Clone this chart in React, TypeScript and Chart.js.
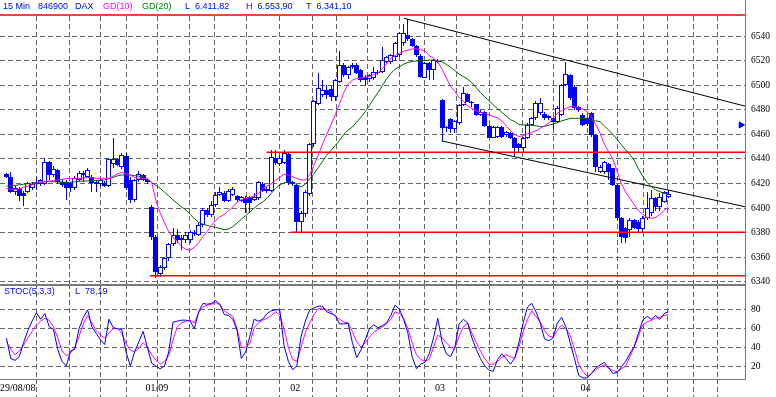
import React, { useEffect, useRef } from 'react';
import { Chart, registerables } from 'chart.js';

Chart.register(...registerables);

// ---------------- data (15 min candles, DAX, 29/08/08 - 04/09/08) ----------------
const opens = [
  6427.9, 6425, 6413.5, 6415.4, 6412.7, 6413.5, 6416.2, 6419.5, 6419.5, 6419.5, 6437.3, 6427, 6431, 6421.6, 6421.6, 6420.3, 6416.2, 6423, 6427, 6425.7, 6425.7, 6421.6, 6419.5, 6420.3, 6418.1, 6436, 6439.8, 6433.8, 6442.7, 6423, 6406.7, 6423, 6427, 6423,
  6401.3, 6376.9, 6346.1, 6351.2, 6359.3, 6370.7, 6378.3, 6375.6, 6374.2, 6374.2, 6379, 6378.3, 6386.4, 6398.6, 6394.5, 6402.7, 6410.8, 6412, 6406, 6411, 6410, 6406, 6408.6, 6409, 6407, 6408.6, 6420, 6414, 6414, 6441, 6436, 6437, 6443.8, 6421,
  6418.9, 6389, 6395, 6411.3, 6451.9, 6485, 6492, 6496, 6496.8, 6490.7, 6503, 6516.5, 6508, 6514.5, 6516.5, 6512.4, 6506.9, 6505, 6505.6, 6509.7, 6511, 6519, 6519, 6523.3, 6524.6, 6534, 6540.8, 6537.4, 6532, 6523.8, 6506, 6518, 6512.4, 6520,
  6488, 6466, 6472.6, 6464.4, 6469, 6484, 6492.6, 6486.7, 6484.5, 6475.8, 6478, 6467, 6457.4, 6458, 6466.3, 6459.6, 6461, 6456.8, 6452, 6448.6, 6457.4, 6467.7, 6473.1, 6477, 6476.4, 6475, 6473.1, 6470.4, 6476, 6500, 6508.3, 6498.9, 6482.6, 6475.8,
  6473.1, 6477.2, 6459.6, 6429.8, 6429.2, 6435.7, 6432.5, 6419, 6391.8, 6383.7, 6382.3, 6390.5, 6389, 6383.1, 6391.8, 6395.9, 6408.6, 6401.3, 6405.4, 6409.5,
];
const highs = [
  6428.4, 6429.8, 6418, 6417, 6414, 6421, 6421, 6425.7, 6424, 6440.6, 6438, 6434, 6432, 6424, 6423, 6421, 6426, 6430, 6430.5, 6432.5, 6427, 6423, 6424, 6422, 6441, 6457, 6441, 6444.8, 6444.5, 6425, 6424, 6430, 6428, 6424,
  6402.5, 6378, 6354, 6360, 6372, 6384, 6383, 6378, 6381, 6382, 6382, 6388, 6400, 6400, 6406, 6413, 6417, 6414, 6416, 6417, 6411, 6410, 6410, 6410, 6412, 6422, 6421, 6417, 6447, 6447, 6443, 6447, 6445, 6422,
  6420, 6398, 6415, 6453, 6488, 6509.7, 6504, 6500, 6499, 6505, 6527.8, 6518, 6516, 6518, 6518, 6513, 6508, 6509, 6515, 6512, 6531.4, 6524, 6525, 6535, 6543, 6549.8, 6553.9, 6538.5, 6533, 6525, 6519, 6519, 6521, 6521,
  6489, 6467, 6473, 6472, 6485, 6498.3, 6494, 6487, 6485, 6480, 6479, 6468, 6467, 6467, 6467, 6463, 6462, 6458, 6453, 6458, 6469, 6474.5, 6487, 6489.4, 6478, 6476, 6474, 6483, 6501, 6519.2, 6509, 6500, 6483, 6477,
  6474, 6478, 6460, 6435, 6438.5, 6437, 6433, 6420, 6393, 6385, 6392, 6391.5, 6390, 6394, 6413.5, 6414.8, 6409, 6412.2, 6414, 6415,
];
const lows = [
  6424.3, 6412, 6411, 6406, 6401.4, 6412, 6415, 6414.9, 6418, 6418.5, 6423, 6425, 6420, 6417, 6406.7, 6413, 6415, 6422, 6421, 6425, 6413.5, 6413.5, 6418, 6417, 6417.5, 6433, 6434, 6432, 6415, 6404, 6405, 6421, 6422, 6420,
  6374, 6343, 6344.4, 6350, 6357, 6369, 6372, 6366, 6372, 6372, 6377, 6377, 6385, 6393, 6393, 6401, 6410, 6405, 6405, 6410, 6405, 6405, 6395.8, 6396, 6406, 6407, 6413, 6412, 6413, 6435, 6434, 6436, 6419, 6418,
  6380.4, 6380.5, 6393, 6410, 6450, 6484, 6490, 6489, 6487, 6487, 6502, 6507, 6505, 6513, 6509, 6503, 6499.6, 6503, 6504, 6508, 6510, 6518, 6517, 6520, 6523, 6532, 6536, 6531, 6523, 6506, 6505.5, 6504, 6504, 6518,
  6454.7, 6462, 6461, 6461, 6468, 6483, 6486, 6482.6, 6475, 6475, 6466, 6457, 6457, 6457, 6457, 6458, 6456, 6442, 6446, 6446, 6456, 6467, 6472, 6476, 6472, 6472, 6464.4, 6469, 6475, 6499, 6488, 6480, 6478, 6467,
  6467, 6458, 6429.2, 6429, 6428, 6423, 6418, 6390, 6371.5, 6371.5, 6376.9, 6383, 6381, 6381, 6390, 6394, 6398, 6398, 6404, 6408,
];
const closes = [
  6425.2, 6413.5, 6416.2, 6410, 6410, 6420.3, 6419.5, 6421.6, 6423, 6437.3, 6427, 6432, 6421.6, 6418.9, 6416.2, 6416.2, 6424.3, 6429, 6429, 6431.1, 6420.3, 6419.5, 6423, 6418.1, 6440.1, 6440.1, 6435, 6443.3, 6416.4, 6406.7, 6423, 6427.6, 6423, 6421.6,
  6376.9, 6348.5, 6352.5, 6359.3, 6370.7, 6378.3, 6374.2, 6374.2, 6378.3, 6381, 6380, 6386.4, 6398.6, 6394.5, 6402.7, 6410.8, 6413.5, 6406, 6414, 6416, 6406.7, 6409, 6404, 6404, 6409, 6421, 6414, 6416, 6442, 6436.5, 6441, 6445, 6420.3, 6419.7,
  6388.5, 6396, 6413, 6451.9, 6487, 6497.5, 6496, 6492, 6490.7, 6504, 6516.5, 6508.3, 6515, 6516.5, 6509.7, 6504.3, 6504.3, 6508, 6511, 6511, 6520.5, 6523, 6524.5, 6534, 6542.2, 6542.2, 6537.4, 6532, 6524.6, 6507, 6518, 6512.4, 6520.5, 6519,
  6465.5, 6465, 6464.4, 6471, 6484, 6493.4, 6486.7, 6485.3, 6475.8, 6478.5, 6467, 6457.4, 6466.3, 6466.3, 6458, 6461.6, 6456.8, 6449.3, 6449.3, 6457.4, 6467.7, 6473.1, 6485.3, 6485.3, 6473.1, 6473.1, 6470.4, 6481.2, 6500.2, 6508.9, 6489.4, 6481.2, 6479.9, 6467.7,
  6468.2, 6459.6, 6433.8, 6433.8, 6437.3, 6429.2, 6419, 6391.8, 6376.9, 6376, 6390.5, 6384.2, 6383, 6392.4, 6400, 6408, 6401.3, 6409.4, 6413.5, 6411.82,
];

// GD(10) and GD(20)
const gd10 = [
  6416, 6415.5, 6415, 6415.5, 6417, 6418, 6419, 6420.5, 6421.5, 6421.5,
  6422, 6422.5, 6423, 6423.5, 6424, 6424.3, 6424.3, 6424.3, 6424.5, 6425,
  6424.8, 6424.3, 6424.3, 6424.3, 6424.3, 6426, 6428, 6429, 6428, 6427,
  6425, 6424.5, 6424.3, 6424.3, 6421, 6406, 6396, 6388, 6381, 6376,
  6373, 6369, 6366.5, 6366, 6368, 6372, 6377, 6381, 6386, 6390,
  6393, 6395, 6398, 6401, 6405, 6407, 6408, 6408.5, 6410, 6412,
  6416, 6418, 6420, 6422.5, 6425, 6427.6, 6427, 6425.7, 6424, 6423,
  6423, 6427, 6435, 6443, 6452, 6460, 6468, 6476, 6485, 6494,
  6501, 6504, 6505.5, 6506, 6506.5, 6507, 6508.5, 6510, 6513.5, 6517,
  6521.9, 6524, 6526, 6527.5, 6528.5, 6529.5, 6529.5, 6529, 6527.8, 6524,
  6522, 6519, 6513, 6506, 6499, 6494.8, 6490, 6487, 6483, 6481,
  6479, 6478, 6477, 6476, 6474.5, 6473.5, 6471, 6467, 6463, 6460,
  6458.2, 6459, 6460.5, 6461.5, 6463, 6465, 6467, 6469, 6473, 6477,
  6479.5, 6481, 6482.6, 6482.5, 6481.5, 6480.5, 6478.5, 6474, 6468, 6461,
  6452, 6446, 6440, 6430, 6420, 6413, 6408, 6403, 6398, 6395,
  6392.5, 6391.8, 6392.5, 6395, 6398, 6401,
];
const gd20 = [
  6418, 6418, 6418.5, 6419, 6419.5, 6420, 6420.5, 6421, 6421, 6421.5,
  6421.6, 6421.5, 6421.3, 6421.2, 6421, 6421.2, 6421.5, 6421.8, 6422, 6422.2,
  6422.4, 6422.6, 6422.8, 6423, 6424, 6425, 6426.3, 6427, 6427, 6427,
  6426.5, 6426, 6425, 6423, 6421, 6418.5, 6416.2, 6413, 6410, 6406.7,
  6404, 6401, 6398.6, 6395, 6391.5, 6388.5, 6387, 6386, 6385, 6384.5,
  6383.5, 6382.5, 6383, 6385, 6388, 6391, 6394, 6397, 6400, 6403,
  6405, 6408, 6412, 6416, 6419, 6420.5, 6421.5, 6421, 6419, 6417.5,
  6419.5, 6424, 6428, 6433, 6438, 6443, 6447, 6451, 6455, 6460,
  6463.5, 6466, 6470, 6474, 6478.5, 6483.5, 6489, 6494, 6499.5, 6505,
  6509.5, 6513, 6515, 6517, 6518.5, 6519.3, 6519.7, 6519.8, 6520, 6520.3,
  6520.5, 6519.8, 6519, 6517, 6514.5, 6512, 6509, 6507, 6505, 6502,
  6498, 6494, 6490.5, 6487.5, 6484, 6481, 6478, 6475, 6472, 6470.5,
  6468, 6467.7, 6467.7, 6467.5, 6467, 6466.3, 6466.5, 6467.5, 6468.5, 6469.5,
  6471, 6472, 6473, 6473.1, 6473.1, 6473, 6472.5, 6471.5, 6471, 6470.4,
  6467, 6463.6, 6460, 6456, 6451.5, 6447.5, 6443.5, 6439, 6432, 6426,
  6421, 6417.5, 6415, 6413.5, 6412, 6410.8,
];

// STOC(5,3,3)
const stochK = [
  49.8, 28, 26, 30, 45, 58, 68, 77, 70, 76,
  62, 59, 38, 25, 20, 36, 38, 60, 72, 80,
  62, 55, 48, 43, 70, 61, 60, 59, 35, 20,
  35, 46, 57, 40, 23, 20, 17, 20, 35, 67,
  68, 69, 69, 68, 60, 78, 87, 86, 87, 90,
  86, 75, 74, 70, 58, 28, 35, 52, 70, 68,
  70, 76, 79, 80, 80, 42, 25, 16, 20, 52,
  68, 80, 82, 84, 84, 78, 76, 74, 65, 65,
  66, 45, 29, 37, 48, 60, 64, 61, 63, 66,
  74, 85, 81, 70, 55, 30, 17, 22, 24, 33,
  50, 71, 46, 33, 30, 40, 65, 70, 66, 50,
  38, 28, 20, 15.4, 14.3, 27, 33, 28, 22, 28,
  45, 66, 83, 87, 78, 66, 49, 47, 50, 66,
  72, 62, 45, 28, 10, 7.2, 7.2, 12, 18, 21,
  24, 18, 12, 13, 19, 25, 33, 41, 55, 69,
  73, 70, 74, 70, 76, 78.19,
];
const stochD = [
  46, 38, 32, 36, 42, 50, 57, 64, 68, 71,
  69, 62, 50, 36, 31, 34, 40, 52, 65, 74,
  66, 58, 53, 50, 55, 60, 60, 55, 44, 37,
  35, 39, 45, 40, 32, 26, 22, 25, 31, 48,
  62, 66, 68, 69, 66, 77, 83, 85, 86, 88,
  85, 79, 76, 73, 60, 40, 40, 44, 61, 66,
  69, 71, 74, 78, 75, 60, 40, 27, 25, 40,
  56, 66, 75, 81, 82, 80, 78, 73, 70, 67,
  66, 57, 46, 40, 45, 51, 56, 59, 62, 65,
  70, 78, 76, 71, 60, 45, 32, 27, 25, 27,
  40, 53, 50, 45, 40, 39, 52, 62, 66, 55,
  45, 36, 28, 22, 22, 25, 29, 32, 30, 28,
  40, 57, 70, 79, 73, 67, 58, 52, 51, 58,
  64, 60, 53, 38, 22, 14, 9, 12, 16, 19,
  21, 18, 15, 14, 17, 20, 30, 40, 52, 64,
  67, 69, 71, 72, 74, 75,
];

const priceTicks = [6340, 6360, 6380, 6400, 6420, 6440, 6460, 6480, 6500, 6520, 6540];
const stochTicks = [20, 40, 60, 80];
const dayLabels = ['29/08/08', '01/09', '02', '03', '04'];
const dayLabelAt = [0, 35.2, 67.6, 101.5, 135.6];
const timeGridAt = [7.14, 14.64, 22.13, 28.22, 35.48, 42.97, 48.83, 56.32, 63.82, 71.55, 77.4, 84.66, 92.15, 98.0, 105.5, 113.0, 120.96, 128.2, 135.95, 143.2, 149.1, 154.9, 160.8, 166.6];

// drawn lines, in (candle index, price)
const levelPrices = [6557, 6445.4, 6380.4, 6345];
const levelStarts = [-1.52, 60.9, 66.6, 33.6];
const upperTrend = [{ x: 93.1, y: 6554.4 }, { x: 172.95, y: 6483 }];
const lowerTrend = [{ x: 101.9, y: 6454.7 }, { x: 172.95, y: 6401.2 }];
const alertMarker = [{ x: 172, y: 6467.7 }];

const headerItems = [
  { t: '15 Min', c: '#0000ff', x: 3 },
  { t: '846900', c: '#0000ff', x: 38 },
  { t: 'DAX', c: '#0000ff', x: 75 },
  { t: 'GD(10)', c: '#ff00ff', x: 103 },
  { t: 'GD(20)', c: '#008000', x: 142 },
  { t: 'L  6.411,82', c: '#0000ff', x: 185 },
  { t: 'H  6.553,90', c: '#0000ff', x: 246 },
  { t: 'T  6.341,10', c: '#0000ff', x: 306 },
];

// ---------------- layout constants ----------------
const X_MIN = -1.52;
const X_MAX = 172.95;
const P_MIN = 6338.37;
const P_MAX = 6569.27;
const S_MIN = 6.1;
const S_MAX = 107.7;
const GRID = '#666666';
const DASH = [5, 3];
const BLUE = '#0000ff';
const SANS = "'Liberation Sans', Arial, sans-serif";
const SERIF = "'Liberation Serif', 'Times New Roman', serif";

export default function App() {
  const topRef = useRef<HTMLCanvasElement>(null);
  const botRef = useRef<HTMLCanvasElement>(null);

  useEffect(() => {
    const idx = closes.map((_, i) => i);
    const wickData = idx.map((i) => ({ x: i, y: [lows[i], highs[i]] }));
    const bodyData = idx.map((i) => ({ x: i, y: [opens[i], closes[i]] }));
    const bodyFill = idx.map((i) => (closes[i] >= opens[i] ? '#ffffff' : BLUE));

    const lineDs = (data: any[], color: string, order = 0, width = 1) => ({
      type: 'line' as const,
      data,
      borderColor: color,
      backgroundColor: color,
      borderWidth: width,
      pointRadius: 0,
      tension: 0,
      fill: false,
      order,
    });

    const levelSets = levelPrices.map((p, k) =>
      lineDs([{ x: levelStarts[k], y: p }, { x: X_MAX, y: p }], '#ff0000', 0, 1.5)
    );

    const xScale = (tickLen: number, h: number) => ({
      type: 'linear' as const,
      min: X_MIN,
      max: X_MAX,
      offset: false,
      position: 'bottom' as const,
      afterBuildTicks: (s: any) => {
        s.ticks = timeGridAt.map((v) => ({ value: v }));
      },
      afterFit: (s: any) => {
        s.height = h;
        s.paddingLeft = 0;
        s.paddingRight = 0;
      },
      ticks: { display: false },
      grid: {
        offset: false,
        color: GRID,
        lineWidth: 1,
        drawTicks: tickLen > 0,
        tickLength: tickLen,
        tickColor: GRID,
        tickBorderDash: DASH,
      },
      border: { display: false, dash: DASH },
    });

    const yScale = (min: number, max: number, ticks: number[]) => ({
      type: 'linear' as const,
      position: 'right' as const,
      min,
      max,
      beginAtZero: false,
      afterBuildTicks: (s: any) => {
        s.ticks = ticks.map((v) => ({ value: v }));
      },
      afterFit: (s: any) => {
        s.width = 31;
        s.paddingTop = 0;
        s.paddingBottom = 0;
      },
      ticks: {
        color: '#000',
        padding: 6,
        font: { family: SERIF, size: 9.5 },
        callback: (v: any) => String(v),
      },
      grid: { color: GRID, lineWidth: 1, drawTicks: false },
      border: { display: false, dash: DASH },
    });

    // snap candle elements (positions come from the scales) to the pixel grid for crisp edges
    const snapPlugin = {
      id: 'candleSnap',
      beforeDatasetsDraw(chart: any) {
        chart.getSortedVisibleDatasetMetas().forEach((meta: any) => {
          if (meta.type !== 'bar') return;
          meta.data.forEach((el: any) => {
            el.x = Math.floor(el.x) + 0.5;
            el.y = Math.round(el.y);
            el.base = Math.round(el.base);
          });
        });
      },
    };

    const topPlugin = {
      id: 'topDecor',
      beforeDraw(chart: any) {
        const { ctx, width, height } = chart;
        ctx.save();
        ctx.fillStyle = '#ffffff';
        ctx.fillRect(0, 0, width, height);
        ctx.restore();
      },
      beforeDatasetsDraw(chart: any) {
        const { ctx, chartArea } = chart;
        ctx.save();
        ctx.fillStyle = '#ffffff';
        ctx.fillRect(0, 0, chartArea.right, 15);
        ctx.restore();
      },
      afterDraw(chart: any) {
        const { ctx, chartArea } = chart;
        ctx.save();
        ctx.fillStyle = '#7a7a7a';
        ctx.fillRect(chartArea.right, 0, 1, chartArea.bottom);
        ctx.font = `9px ${SANS}`;
        ctx.textBaseline = 'alphabetic';
        ctx.textAlign = 'left';
        headerItems.forEach((h) => {
          ctx.fillStyle = h.c;
          ctx.fillText(h.t, h.x, 9);
        });
        ctx.restore();
      },
    };

    const botPlugin = {
      id: 'botDecor',
      beforeDraw(chart: any) {
        const { ctx, width, height } = chart;
        ctx.save();
        ctx.fillStyle = '#ffffff';
        ctx.fillRect(0, 0, width, height);
        ctx.restore();
      },
      afterDraw(chart: any) {
        const { ctx, chartArea, scales } = chart;
        ctx.save();
        ctx.fillStyle = '#7a7a7a';
        ctx.fillRect(0, 0, chartArea.right + 1, 2);
        ctx.fillRect(0, chartArea.bottom, chartArea.right + 1, 1);
        ctx.fillRect(chartArea.right, 0, 1, chartArea.bottom + 1);
        ctx.font = `9px ${SANS}`;
        ctx.fillStyle = BLUE;
        ctx.textAlign = 'left';
        ctx.textBaseline = 'alphabetic';
        ctx.fillText('STOC(5,3,3)', 4, 10);
        ctx.fillText('L  78,19', 75, 10);
        ctx.font = `10px ${SERIF}`;
        ctx.fillStyle = '#000';
        ctx.textBaseline = 'middle';
        dayLabels.forEach((lab, k) => {
          const px = scales.x.getPixelForValue(dayLabelAt[k]);
          const w = ctx.measureText(lab).width;
          const left = Math.max(0, px - w / 2);
          ctx.fillText(lab, left, chartArea.bottom + 9.5);
        });
        ctx.restore();
      },
    };

    const common = {
      animation: false as const,
      responsive: false,
      maintainAspectRatio: false,
      devicePixelRatio: 1,
      events: [] as any[],
      layout: { padding: 0, autoPadding: false },
      plugins: { legend: { display: false }, tooltip: { enabled: false } },
    };

    const top = new Chart(topRef.current as HTMLCanvasElement, {
      type: 'line',
      data: {
        datasets: [
          lineDs(gd10.map((v, i) => ({ x: i, y: v })), '#ff00ff', 0),
          lineDs(gd20.map((v, i) => ({ x: i, y: v })), '#006600', 0),
          lineDs(upperTrend, '#000000', 0),
          lineDs(lowerTrend, '#000000', 0),
          ...levelSets,
          {
            type: 'scatter' as const,
            data: alertMarker,
            pointStyle: 'triangle',
            rotation: 90,
            pointRadius: 3.5,
            backgroundColor: BLUE,
            borderColor: BLUE,
            borderWidth: 1,
            order: 0,
          },
          {
            type: 'bar' as const,
            data: bodyData as any,
            backgroundColor: bodyFill,
            borderColor: BLUE,
            borderWidth: 1,
            borderSkipped: false,
            barThickness: 5,
            minBarLength: 1,
            grouped: false,
            inflateAmount: 0,
            order: 1,
          },
          {
            type: 'bar' as const,
            data: wickData as any,
            backgroundColor: BLUE,
            borderWidth: 0,
            barThickness: 1,
            grouped: false,
            inflateAmount: 0,
            order: 2,
          },
        ] as any,
      },
      options: {
        ...common,
        scales: {
          x: xScale(0, 0),
          y: yScale(P_MIN, P_MAX, priceTicks),
        } as any,
      } as any,
      plugins: [snapPlugin, topPlugin],
    });

    const bot = new Chart(botRef.current as HTMLCanvasElement, {
      type: 'line',
      data: {
        datasets: [
          lineDs(stochK.map((v, i) => ({ x: i, y: v })), BLUE, 0),
          lineDs(stochD.map((v, i) => ({ x: i, y: v })), '#ff00ff', 1),
        ] as any,
      },
      options: {
        ...common,
        scales: {
          x: xScale(18, 18),
          y: yScale(S_MIN, S_MAX, stochTicks),
        } as any,
      } as any,
      plugins: [botPlugin],
    });

    return () => {
      top.destroy();
      bot.destroy();
    };
  }, []);

  return (
    <div style={{ position: 'fixed', left: 0, top: 0, width: 776, height: 397, background: '#ffffff' }}>
      <canvas ref={topRef} width={776} height={284} style={{ position: 'absolute', left: 0, top: 0, display: 'block' }} />
      <canvas ref={botRef} width={776} height={113} style={{ position: 'absolute', left: 0, top: 284, display: 'block' }} />
    </div>
  );
}
